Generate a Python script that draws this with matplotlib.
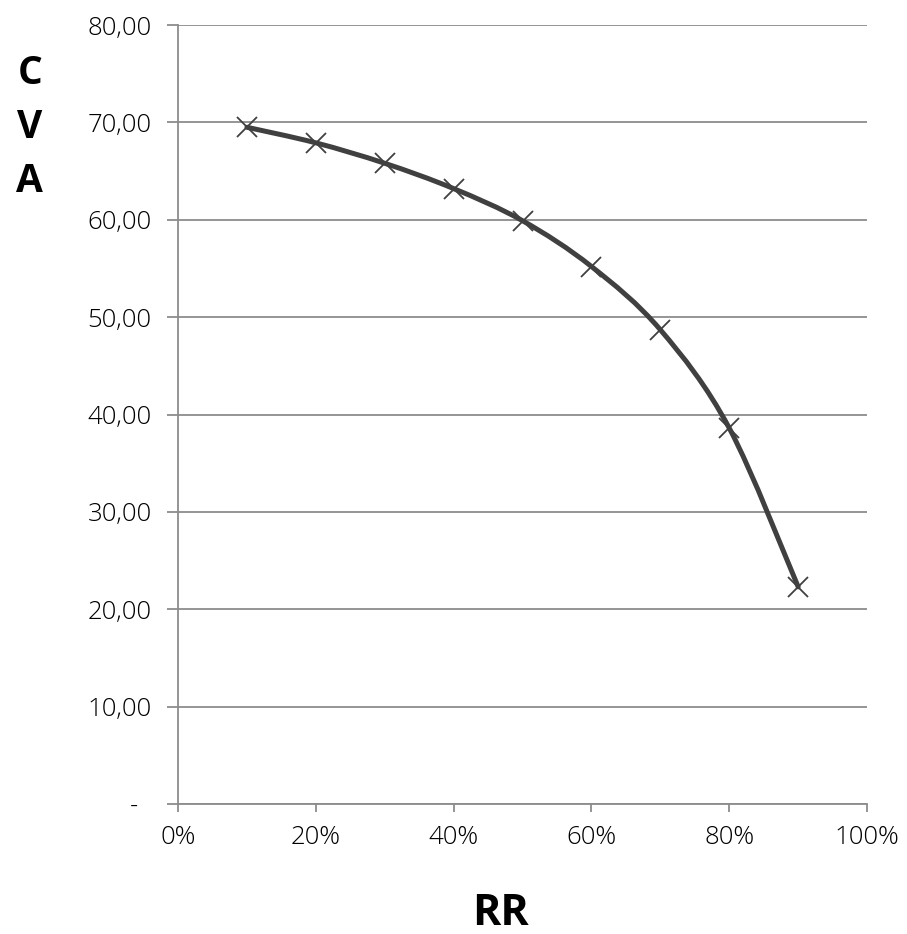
import numpy as np
import matplotlib
matplotlib.use('Agg')
from matplotlib import pyplot as plt
from matplotlib.path import Path
from matplotlib.patches import PathPatch
from matplotlib.ticker import FuncFormatter

plt.rcParams['font.family'] = ['Open Sans', 'DejaVu Sans']

recovery = [0.1, 0.2, 0.3, 0.4, 0.5, 0.6, 0.7, 0.8, 0.9]
cva = [69.5, 67.9, 65.8, 63.2, 59.9, 55.2, 48.7, 38.6, 22.3]

line_col = '#404040'
grid_col = '#8c8c8c'


def smooth_path(xs, ys):
    # cubic bezier through every point (catmull-rom style tangents)
    pts = np.column_stack([xs, ys])
    verts = [pts[0]]
    codes = [Path.MOVETO]
    n = len(pts)
    for i in range(n - 1):
        p0 = pts[max(i - 1, 0)]
        p1 = pts[i]
        p2 = pts[i + 1]
        p3 = pts[min(i + 2, n - 1)]
        c1 = p1 + (p2 - p0) / 6.0
        c2 = p2 - (p3 - p1) / 6.0
        verts += [c1, c2, p2]
        codes += [Path.CURVE4] * 3
    return Path(verts, codes)


fig = plt.figure(figsize=(9.07, 9.34), dpi=100)
ax = fig.add_axes([0.1963, 0.1392, 0.7597, 0.834])

ax.set_xlim(0, 1)
ax.set_ylim(0, 80)
ax.set_xticks(np.arange(0, 1.01, 0.2))
ax.set_yticks(np.arange(0, 81, 10))
ax.xaxis.set_major_formatter(FuncFormatter(lambda v, p: '%d%%' % round(v * 100)))
ax.yaxis.set_major_formatter(FuncFormatter(
    lambda v, p: '-  ' if v == 0 else ('%.2f' % v).replace('.', ',')))

ax.grid(axis='y', color=grid_col, linewidth=1.3)
ax.set_axisbelow(True)
for s in ['top', 'right']:
    ax.spines[s].set_visible(False)
for s in ['left', 'bottom']:
    ax.spines[s].set_color(grid_col)
    ax.spines[s].set_linewidth(1.3)
ax.tick_params(axis='both', colors=grid_col, labelcolor='#000000',
               labelsize=18.5, width=1.3)
ax.tick_params(axis='x', length=6, pad=9)
ax.tick_params(axis='y', length=8, pad=11)
for lbl in ax.get_xticklabels() + ax.get_yticklabels():
    lbl.set_fontweight('light')

ax.add_patch(PathPatch(smooth_path(recovery, cva), facecolor='none',
                       edgecolor=line_col, linewidth=3.6, capstyle='round'))
ax.plot(recovery, cva, linestyle='none', marker='x', markersize=15,
        markeredgewidth=1.3, color=line_col, zorder=3)

fig.text(0.033, 0.863, 'C\nV\nA', ha='center', va='center', fontsize=28,
         fontweight='bold', linespacing=1.5)
fig.text(0.552, 0.022, 'RR', ha='center', va='center', fontsize=31,
         fontweight='bold')

fig.savefig('out.png', dpi=100)
